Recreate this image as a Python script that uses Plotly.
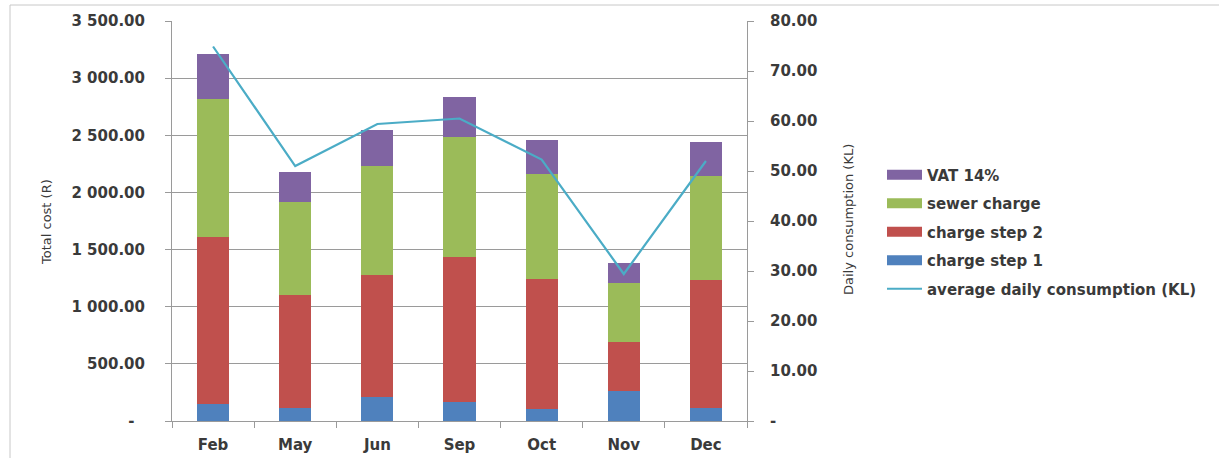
import plotly.graph_objects as go

# Monthly water bill breakdown (Rand) and average daily consumption (KL)
months = ["Feb", "May", "Jun", "Sep", "Oct", "Nov", "Dec"]
charge_step_1 = [150, 110, 212, 162, 102, 265, 110]
charge_step_2 = [1463, 990, 1066, 1276, 1143, 424, 1124]
sewer_charge = [1202, 813, 956, 1050, 913, 521, 910]
vat_14 = [394, 268, 313, 348, 302, 169, 300]
avg_daily_kl = [74.9, 51.0, 59.4, 60.5, 52.3, 29.4, 52.0]

cost_ticks = [0, 500, 1000, 1500, 2000, 2500, 3000, 3500]
kl_ticks = [0, 10, 20, 30, 40, 50, 60, 70, 80]


def fmt(v):
    return "-\u00a0\u00a0" if v == 0 else f"{v:,.2f}".replace(",", " ")


def fmt_r(v):
    return "-" if v == 0 else f"{v:,.2f}"


FONT = "DejaVu Sans"
TXT = "#3a3a3a"
GRID = "#9a9a9a"

bar_series = [
    ("charge step 1", charge_step_1, "#4F81BD", 4),
    ("charge step 2", charge_step_2, "#C0504D", 3),
    ("sewer charge", sewer_charge, "#9BBB59", 2),
    ("VAT 14%", vat_14, "#8064A2", 1),
]

fig = go.Figure()

for name, vals, color, rank in bar_series:
    fig.add_trace(go.Bar(
        x=months, y=vals, name=name, legendgroup=name, showlegend=False,
        marker=dict(color=color, line=dict(width=0)), width=0.39,
    ))
    # wide swatch for the legend entry
    fig.add_trace(go.Scatter(
        x=[None], y=[None], mode="lines", name=name, legendgroup=name,
        legendrank=rank, line=dict(color=color, width=10),
    ))

fig.add_trace(go.Scatter(
    x=months, y=avg_daily_kl, mode="lines", name="average daily consumption (KL)",
    legendgroup="avg", legendrank=5, yaxis="y2",
    line=dict(color="#4BACC6", width=2.2),
))

W, H = 1219, 458
L, R, T, B = 172, 747, 21, 421
pw, ph = R - L, B - T

fig.update_layout(
    width=W, height=H,
    margin=dict(l=L, r=W - R, t=T, b=H - B, pad=0, autoexpand=False),
    paper_bgcolor="white", plot_bgcolor="white",
    barmode="stack",
    font=dict(family=FONT, size=14, color=TXT),
    showlegend=True,
    legend=dict(
        x=(882 - L) / pw, xanchor="left",
        y=(B - 232) / ph, yanchor="middle",
        font=dict(family=FONT, size=15, color=TXT, weight="bold"),
        itemwidth=35, tracegroupgap=6,
        bgcolor="rgba(0,0,0,0)",
    ),
    xaxis=dict(
        type="category", showgrid=False, showline=True, linecolor=GRID, linewidth=1,
        ticks="outside", tickson="boundaries", ticklen=6, tickcolor=GRID,
        ticklabelstandoff=10, automargin=False,
        tickfont=dict(family=FONT, size=15, color=TXT, weight="bold"),
        zeroline=False,
    ),
    yaxis=dict(
        range=[0, 3500], tickvals=cost_ticks, ticktext=[fmt(v) for v in cost_ticks],
        showgrid=True, gridcolor=GRID, gridwidth=1,
        showline=True, linecolor=GRID, linewidth=1,
        ticks="outside", ticklen=6, tickcolor=GRID, ticklabelstandoff=17,
        automargin=False,
        tickfont=dict(family=FONT, size=15, color=TXT, weight="bold"),
        zeroline=False,
    ),
    yaxis2=dict(
        range=[0, 80], tickvals=kl_ticks, ticktext=[fmt_r(v) for v in kl_ticks],
        overlaying="y", side="right", showgrid=False,
        showline=True, linecolor=GRID, linewidth=1,
        ticks="outside", ticklen=6, tickcolor=GRID, ticklabelstandoff=13,
        automargin=False,
        tickfont=dict(family=FONT, size=15, color=TXT, weight="bold"),
        zeroline=False,
    ),
    annotations=[
        dict(text="Total cost (R)", textangle=-90, showarrow=False,
             xref="paper", yref="paper", x=(47 - L) / pw, y=(B - 222) / ph,
             xanchor="center", yanchor="middle",
             font=dict(family=FONT, size=13, color=TXT)),
        dict(text="Daily consumption (KL)", textangle=-90, showarrow=False,
             xref="paper", yref="paper", x=(848 - L) / pw, y=(B - 220) / ph,
             xanchor="center", yanchor="middle",
             font=dict(family=FONT, size=13, color=TXT)),
    ],
    shapes=[
        dict(type="rect", xref="paper", yref="paper",
             x0=(10 - L) / pw, x1=(1240 - L) / pw,
             y0=(B - 470) / ph, y1=(B - 5) / ph,
             line=dict(color="#c8c8c8", width=1), layer="below"),
    ],
)

fig.write_html("out.html")
